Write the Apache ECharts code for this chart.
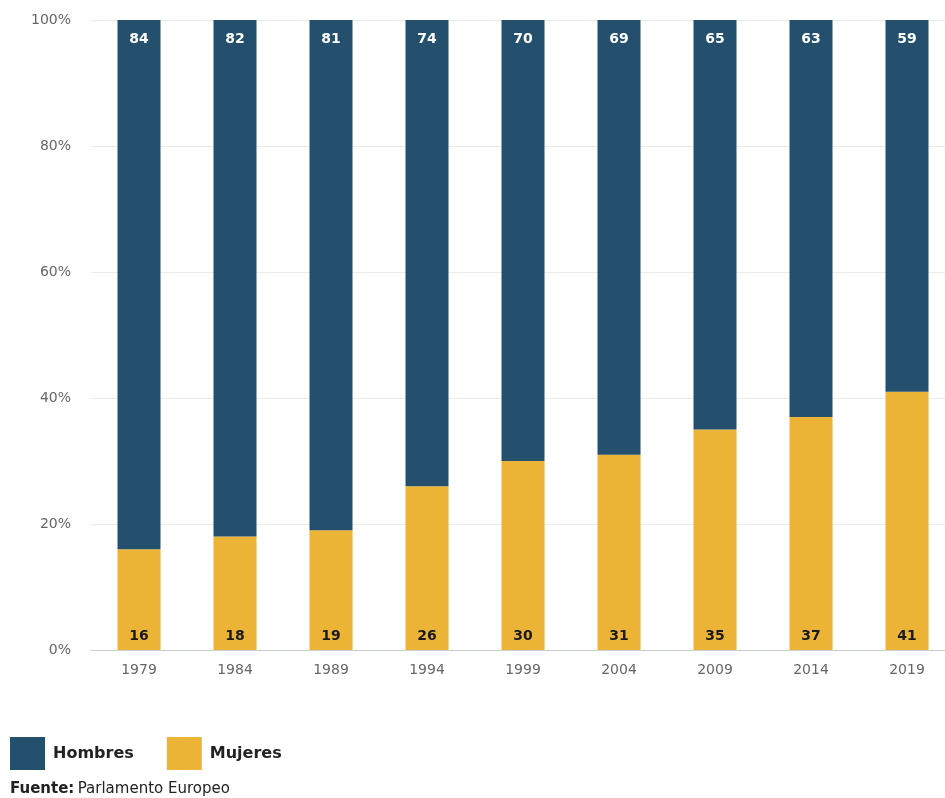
<!DOCTYPE html>
<html>
<head>
<meta charset="utf-8">
<script src="https://cdn.jsdelivr.net/npm/echarts@6/dist/echarts.min.js"></script>
<style>
html,body{margin:0;padding:0;background:#fff;}
#chart{width:945px;height:798px;}
</style>
</head>
<body>
<div id="chart"></div>
<script>
const years = ['1979','1984','1989','1994','1999','2004','2009','2014','2019'];
const hombres = [84, 82, 81, 74, 70, 69, 65, 63, 59];
const mujeres = [16, 18, 19, 26, 30, 31, 35, 37, 41];
const yTicks = [0, 20, 40, 60, 80, 100];

const FONT = '"DejaVu Sans", "Noto Sans", sans-serif';
const chart = echarts.init(document.getElementById('chart'));
chart.setOption({
  backgroundColor: '#fff',
  animation: false,
  textStyle: { fontFamily: FONT },
  grid: { left: 91, width: 864, top: 20, height: 630, containLabel: false, outerBoundsMode: 'none' },
  legend: {
    left: 5, top: 732, itemWidth: 35, itemHeight: 33, itemGap: 33,
    icon: 'rect',
    textStyle: { fontFamily: FONT, fontWeight: 'bold', fontSize: 16, color: '#222', padding: [0,0,0,3] },
    data: ['Hombres', 'Mujeres']
  },
  xAxis: {
    type: 'category', data: years,
    axisLine: { lineStyle: { color: '#c9ced6' } },
    axisTick: { show: false },
    axisLabel: { color: '#666', fontSize: 14, fontFamily: FONT, margin: 13 }
  },
  yAxis: {
    type: 'value', min: 0, max: 100, interval: 20,
    axisLabel: { color: '#666', fontSize: 14, fontFamily: FONT, margin: 20, formatter: v => v + '%' },
    splitLine: { lineStyle: { color: '#ebebeb' } },
    axisLine: { show: false }, axisTick: { show: false }
  },
  series: [
    {
      name: 'Mujeres', type: 'bar', stack: 'total', barWidth: 43,
      itemStyle: { color: '#ebb437' },
      label: { show: true, position: 'insideBottom', distance: 7, color: '#1a1a1a', fontWeight: 'bold', fontSize: 14, fontFamily: FONT },
      data: mujeres
    },
    {
      name: 'Hombres', type: 'bar', stack: 'total', barWidth: 43,
      itemStyle: { color: '#24506e' },
      label: { show: true, position: 'insideTop', distance: 12, color: '#fff', fontWeight: 'bold', fontSize: 14, fontFamily: FONT },
      data: hombres
    }
  ],
  graphic: [{
    type: 'text', left: 10, top: 782,
    style: {
      rich: {
        b: { fontWeight: 'bold', fontSize: 15, fill: '#222', fontFamily: FONT },
        n: { fontSize: 15, fill: '#222', fontFamily: FONT }
      },
      text: '{b|Fuente:} {n|Parlamento Europeo}'
    }
  }]
});
</script>
</body>
</html>
